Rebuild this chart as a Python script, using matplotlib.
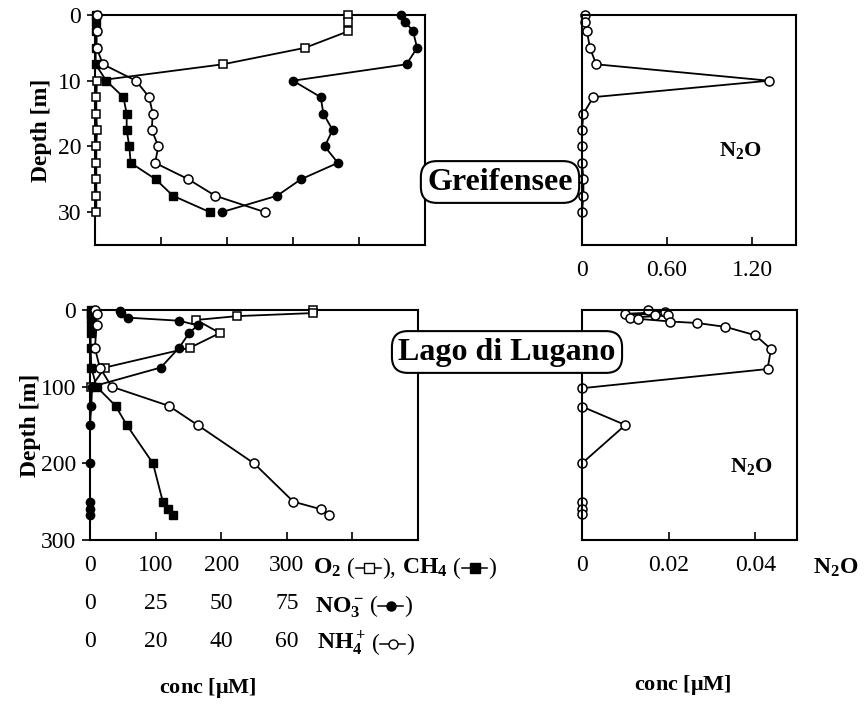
import numpy as np
import matplotlib
matplotlib.use('Agg')
import matplotlib.pyplot as plt
from matplotlib.lines import Line2D

plt.rcParams['font.family'] = ['Liberation Serif', 'DejaVu Serif']
plt.rcParams['mathtext.fontset'] = 'custom'
plt.rcParams['mathtext.rm'] = 'Liberation Serif'
plt.rcParams['mathtext.bf'] = 'Liberation Serif:bold'
plt.rcParams['mathtext.it'] = 'Liberation Serif:italic'

# ---- Greifensee ----
gr_o2_depth = [0, 1, 2.5, 5, 7.5, 10, 12.5, 15, 17.5, 20, 22.5, 25, 27.5, 30]
gr_o2 = [383, 383, 383, 318, 194, 3, 2, 2, 3, 2, 2, 2, 2, 2]
gr_ch4_depth = [0, 1, 2.5, 5, 7.5, 10, 12.5, 15, 17.5, 20, 22.5, 25, 27.5, 30]
gr_ch4 = [1, 1, 1, 1, 1, 17, 43, 48, 48, 52, 54, 92, 118, 174]
gr_no3_depth = [0, 1, 2.5, 5, 7.5, 10, 12.5, 15, 17.5, 20, 22.5, 25, 27.5, 30]
gr_no3 = [116, 117.5, 120.5, 122, 118, 75, 85.5, 86.5, 90, 87, 92, 78, 69, 48]
gr_nh4_depth = [0, 2.5, 5, 7.5, 10, 12.5, 15, 17.5, 20, 22.5, 25, 27.5, 30]
gr_nh4 = [0.5, 0.5, 0.5, 2.4, 12.4, 16.4, 17.5, 17.2, 19.2, 18.2, 28.3, 36.4, 51.5]
gr_n2o_depth = [0, 1, 2.5, 5, 7.5, 10, 12.5, 15, 17.5, 20, 22.5, 25, 27.5, 30]
gr_n2o = [0.02, 0.02, 0.035, 0.056, 0.10, 1.32, 0.08, 0.01, 0, 0, 0, 0.01, 0.01, 0]

# ---- Lago di Lugano ----
lu_o2_depth = [0, 4, 8, 13, 30, 49, 75, 100]
lu_o2 = [340, 340, 224, 162, 198, 153, 23, 2]
lu_ch4_depth = [0, 5, 10, 20, 30, 50, 75, 100, 125, 150, 200, 250, 260, 267]
lu_ch4 = [1, 1, 1, 1, 1, 1, 2, 10, 39, 56, 96, 111, 119, 127]
lu_no3_depth = [1, 4, 10, 14, 20, 30, 49, 75, 100, 125, 150, 200, 250, 260, 267]
lu_no3 = [11.4, 12, 14.6, 34, 41, 37.8, 34, 27, 0.8, 0.5, 0, 0, 0, 0, 0]
lu_nh4_depth = [0, 5, 20, 50, 75, 100, 125, 150, 200, 250, 260, 267]
lu_nh4 = [1.5, 2, 2, 1.5, 3, 6.6, 24, 32.8, 50, 62, 70.5, 73]
lu_n2o_depth = [0, 2.5, 5, 6, 7, 10, 11.5, 15, 17, 22, 33, 51, 77, 102, 126, 150, 200, 251, 259, 266]
lu_n2o = [0.0153, 0.0192, 0.0100, 0.0169, 0.0199, 0.0111, 0.0130, 0.0204, 0.0266, 0.0331,
          0.0400, 0.0436, 0.0428, 0, 0, 0.0100, 0, 0, 0, 0]

o2_ticks = [0, 100, 200, 300, 400]
o2_labels = ['0', '100', '200', '300', '']
no3_ticks = [0, 25, 50, 75, 100]
no3_labels = ['0', '25', '50', '75', '']
nh4_ticks = [0, 20, 40, 60, 80]
nh4_labels = ['0', '20', '40', '60', '']

W, H = 864, 705
fig = plt.figure(figsize=(W / 100, H / 100), dpi=100)


def px_axes(x0, y0, x1, y1):
    return fig.add_axes([x0 / W, 1 - y1 / H, (x1 - x0) / W, (y1 - y0) / H])


LW = 1.3
MS = 6
SPINE = 1.5
TICKFS = 17

open_sq = dict(marker='s', mfc='white', mec='black', color='black', lw=LW, ms=MS, mew=1.1, clip_on=False)
fill_sq = dict(marker='s', mfc='black', mec='black', color='black', lw=LW, ms=MS, clip_on=False)
fill_ci = dict(marker='o', mfc='black', mec='black', color='black', lw=LW, ms=MS, clip_on=False)
open_ci = dict(marker='o', mfc='white', mec='black', color='black', lw=LW, ms=MS + 0.5, mew=1.1, clip_on=False)


def style(ax):
    for s in ax.spines.values():
        s.set_linewidth(SPINE)
    ax.tick_params(axis='x', direction='in', length=6, width=1.2, labelsize=TICKFS, pad=11)
    ax.tick_params(axis='y', direction='out', length=6, width=1.2, labelsize=TICKFS, pad=4)


def twin(ax, xmax, ticks, labels, offset):
    t = ax.twiny()
    t.set_xlim(0, xmax)
    for s in t.spines.values():
        s.set_visible(False)
    t.xaxis.set_ticks_position('bottom')
    t.spines['bottom'].set_position(('outward', offset))
    t.set_xticks(ticks)
    if labels is None:
        t.set_xticklabels([])
        t.tick_params(axis='x', length=0)
    else:
        t.set_xticklabels(labels)
        t.tick_params(axis='x', length=0, labelsize=TICKFS, pad=11)
    return t


# top-left: Greifensee
ax1 = px_axes(95, 15, 425, 245)
style(ax1)
ax1.set_xlim(0, 500)
ax1.set_ylim(35, 0)
ax1.set_yticks([0, 10, 20, 30])
ax1.set_xticks(o2_ticks)
ax1.set_xticklabels([])
t1n = twin(ax1, 125, no3_ticks, None, 0)
t1h = twin(ax1, 100, nh4_ticks, None, 0)
ax1.plot(gr_o2, gr_o2_depth, zorder=3, **open_sq)
ax1.plot(gr_ch4, gr_ch4_depth, zorder=3, **fill_sq)
t1n.plot(gr_no3, gr_no3_depth, **fill_ci)
t1h.plot(gr_nh4, gr_nh4_depth, **open_ci)
ax1.set_ylabel('Depth [m]', fontsize=17, fontweight='bold', labelpad=4)

# top-right: Greifensee N2O
ax2 = px_axes(582, 15, 796, 245)
style(ax2)
ax2.set_xlim(0, 1.51)
ax2.set_ylim(35, 0)
ax2.set_yticks([])
ax2.set_xticks([0, 0.6, 1.2])
ax2.set_xticklabels(['0', '0.60', '1.20'])
ax2.plot(gr_n2o, gr_n2o_depth, **open_ci)
ax2.text(0.74, 0.41, r'$\mathbf{N_2O}$', transform=ax2.transAxes, fontsize=16,
         ha='center', va='center')

# bottom-left: Lago di Lugano
ax3 = px_axes(90, 310, 418, 540)
style(ax3)
ax3.set_xlim(0, 500)
ax3.set_ylim(300, 0)
ax3.set_yticks([0, 100, 200, 300])
ax3.set_xticks(o2_ticks)
ax3.set_xticklabels(o2_labels)
t3n = twin(ax3, 125, no3_ticks, no3_labels, 38 * 0.72)
t3h = twin(ax3, 100, nh4_ticks, nh4_labels, 76 * 0.72)
ax3.plot(lu_o2, lu_o2_depth, zorder=3, **open_sq)
ax3.plot(lu_ch4, lu_ch4_depth, zorder=3, **fill_sq)
t3n.plot(lu_no3, lu_no3_depth, **fill_ci)
t3h.plot(lu_nh4, lu_nh4_depth, **open_ci)
ax3.set_ylabel('Depth [m]', fontsize=17, fontweight='bold', labelpad=0)

# bottom-right: Lugano N2O
ax4 = px_axes(582, 310, 797, 540)
style(ax4)
ax4.set_xlim(0, 0.0496)
ax4.set_ylim(300, 0)
ax4.set_yticks([])
ax4.set_xticks([0, 0.02, 0.04])
ax4.set_xticklabels(['0', '0.02', '0.04'])
ax4.plot(lu_n2o, lu_n2o_depth, **open_ci)
ax4.text(0.79, 0.32, r'$\mathbf{N_2O}$', transform=ax4.transAxes, fontsize=16,
         ha='center', va='center')

# lake name boxes
box = dict(boxstyle='round,pad=0.2,rounding_size=0.5', fc='white', ec='black', lw=1.5)
fig.text(500 / W, 1 - 182 / H, 'Greifensee', fontsize=23, fontweight='bold',
         ha='center', va='center', bbox=box)
fig.text(507 / W, 1 - 352 / H, 'Lago di Lugano', fontsize=23, fontweight='bold',
         ha='center', va='center', bbox=box)

# axis-scale legend rows
renderer = fig.canvas.get_renderer()


def draw_row(x_px, base_px, parts, size=17):
    # strings are text, numbers are gaps in pixels, dicts are marker symbols
    x = x_px
    yf = 1 - base_px / H
    for p in parts:
        if isinstance(p, (int, float)):
            x += p
        elif isinstance(p, str):
            bold = p not in ('(', ')', '),')
            t = fig.text(x / W, yf, p, fontsize=size, ha='left', va='baseline',
                         fontweight='bold' if bold else 'normal')
            x += t.get_window_extent(renderer).width
        else:
            kw = dict(p)
            seg = 26
            ym = 1 - (base_px - 6) / H
            fig.add_artist(Line2D([(x + 1) / W, (x + seg) / W], [ym, ym], color='black',
                                  lw=1.1, transform=fig.transFigure))
            fig.add_artist(Line2D([(x + seg / 2 + 0.5) / W], [ym], transform=fig.transFigure,
                                  linestyle='none', **kw))
            x += seg + 1


sq_open = dict(marker='s', mfc='white', mec='black', ms=6.5, mew=1.0)
sq_fill = dict(marker='s', mfc='black', mec='black', ms=6.5)
ci_fill = dict(marker='o', mfc='black', mec='black', ms=6.5)
ci_open = dict(marker='o', mfc='white', mec='black', ms=6.5, mew=1.0)

draw_row(313, 574, [r'$\mathbf{O_2}$', 6, '(', sq_open, '),', 6, r'$\mathbf{CH_4}$', 6, '(', sq_fill, ')'])
draw_row(315, 612, [r'$\mathbf{NO_3^-}$', 6, '(', ci_fill, ')'])
draw_row(317, 650, [r'$\mathbf{NH_4^+}$', 6, '(', ci_open, ')'])
draw_row(813, 574, [r'$\mathbf{N_2O}$'])

fig.text(208 / W, 1 - 688 / H, r'conc [$\mathbf{\mu}$M]', fontsize=16, fontweight='bold',
         ha='center', va='center')
fig.text(683 / W, 1 - 685 / H, r'conc [$\mathbf{\mu}$M]', fontsize=16, fontweight='bold',
         ha='center', va='center')

fig.savefig('out.png', dpi=100)
